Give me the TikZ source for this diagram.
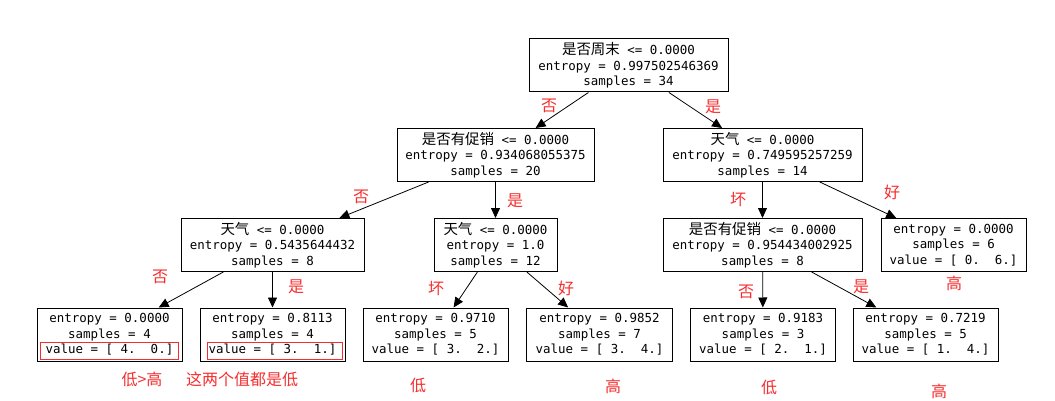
\documentclass[tikz,border=0pt]{standalone}
\usepackage{fontspec}
\setmainfont{DejaVu Sans Mono}
\newfontfamily\cjk[Scale=1.16]{Noto Sans CJK SC}
\newfontfamily\redcjk{Noto Sans CJK SC}
\usetikzlibrary{arrows.meta}
\definecolor{annot}{RGB}{245,45,45}
\tikzset{>={Triangle[length=10pt,width=9pt]}}

\begin{document}
\begin{tikzpicture}[x=1pt, y=-1pt,
    box/.style={draw, line width=1pt, align=center, inner sep=0pt, minimum height=53pt,
      font=\fontsize{12.46}{15.5}\selectfont},
    leaf/.style={box, minimum width=145pt},
    lbl/.style={text=annot, inner sep=0pt, font=\redcjk\fontsize{16}{16}\selectfont},
    edge/.style={->, line width=0.8pt}]
    \useasboundingbox (0,0) rectangle (1055,401);

    % split nodes
    \node[box, minimum width=199pt] (root) at (628.5,65.5) {{\cjk 是否周末} <= 0.0000\\entropy = 0.997502546369\\samples = 34};
    \node[box, minimum width=197pt] (promo) at (495.5,155) {{\cjk 是否有促销} <= 0.0000\\entropy = 0.934068055375\\samples = 20};
    \node[box, minimum width=199pt] (weather) at (762.5,155) {{\cjk 天气} <= 0.0000\\entropy = 0.749595257259\\samples = 14};
    \node[box, minimum width=183pt] (weatherA) at (272.5,245) {{\cjk 天气} <= 0.0000\\entropy = 0.5435644432\\samples = 8};
    \node[box, minimum width=123pt] (weatherB) at (495.5,245) {{\cjk 天气} <= 0.0000\\entropy = 1.0\\samples = 12};
    \node[box, minimum width=199pt] (promoB) at (762.5,245) {{\cjk 是否有促销} <= 0.0000\\entropy = 0.954434002925\\samples = 8};

    % leaves
    \node[leaf] (leafG) at (953.5,245) {entropy = 0.0000\\samples = 6\\value = [ 0.~~6.]};
    \node[leaf] (leafA) at (109.5,334.5) {entropy = 0.0000\\samples = 4\\value = [ 4.~~0.]};
    \node[leaf] (leafB) at (272.5,334.5) {entropy = 0.8113\\samples = 4\\value = [ 3.~~1.]};
    \node[leaf] (leafC) at (435.5,334.5) {entropy = 0.9710\\samples = 5\\value = [ 3.~~2.]};
    \node[leaf, minimum width=146pt] (leafD) at (599.5,334.5) {entropy = 0.9852\\samples = 7\\value = [ 3.~~4.]};
    \node[leaf] (leafE) at (763,334.5) {entropy = 0.9183\\samples = 3\\value = [ 2.~~1.]};
    \node[leaf] (leafF) at (925.5,334.5) {entropy = 0.7219\\samples = 5\\value = [ 1.~~4.]};

    % connectors
    \draw[edge] (root) -- (promo);
    \draw[edge] (root) -- (weather);
    \draw[edge] (promo) -- (weatherA);
    \draw[edge] (promo) -- (weatherB);
    \draw[edge] (weather) -- (promoB);
    \draw[edge] (weather) -- (leafG);
    \draw[edge] (weatherA) -- (leafA);
    \draw[edge] (weatherA) -- (leafB);
    \draw[edge] (weatherB) -- (leafC);
    \draw[edge] (weatherB) -- (leafD);
    \draw[edge] (promoB) -- (leafE);
    \draw[edge] (promoB) -- (leafF);

    % red notes
    \draw[annot, line width=1pt] ([shift={(4pt,2pt)}]leafA.south west) rectangle ([shift={(-4pt,19pt)}]leafA.south east);
    \draw[annot, line width=1pt] ([shift={(8pt,2pt)}]leafB.south west) rectangle ([shift={(-3pt,19pt)}]leafB.south east);

    \node[lbl] (no1) at (549,106) {否};
    \node[lbl] (yes1) at (713,107) {是};
    \node[lbl] (no2) at (361,197) {否};
    \node[lbl] (yes2) at (515,201) {是};
    \node[lbl] (bad1) at (738,199) {坏};
    \node[lbl] (good1) at (892,192) {好};
    \node[lbl] (no3) at (160,277) {否};
    \node[lbl] (yes3) at (296,287) {是};
    \node[lbl] (bad2) at (436,288) {坏};
    \node[lbl] (good2) at (566,288) {好};
    \node[lbl] (no4) at (746,292) {否};
    \node[lbl] (yes4) at (861,287) {是};

    \node[lbl] (resA) at (142,379) {低>高};
    \node[lbl] (resB) at (242,379) {这两个值都是低};
    \node[lbl] (resC) at (418,385) {低};
    \node[lbl] (resD) at (613,386) {高};
    \node[lbl] (resE) at (769,387) {低};
    \node[lbl] (resF) at (939,391) {高};
    \node[lbl] (resG) at (954,283) {高};
\end{tikzpicture}
\end{document}
